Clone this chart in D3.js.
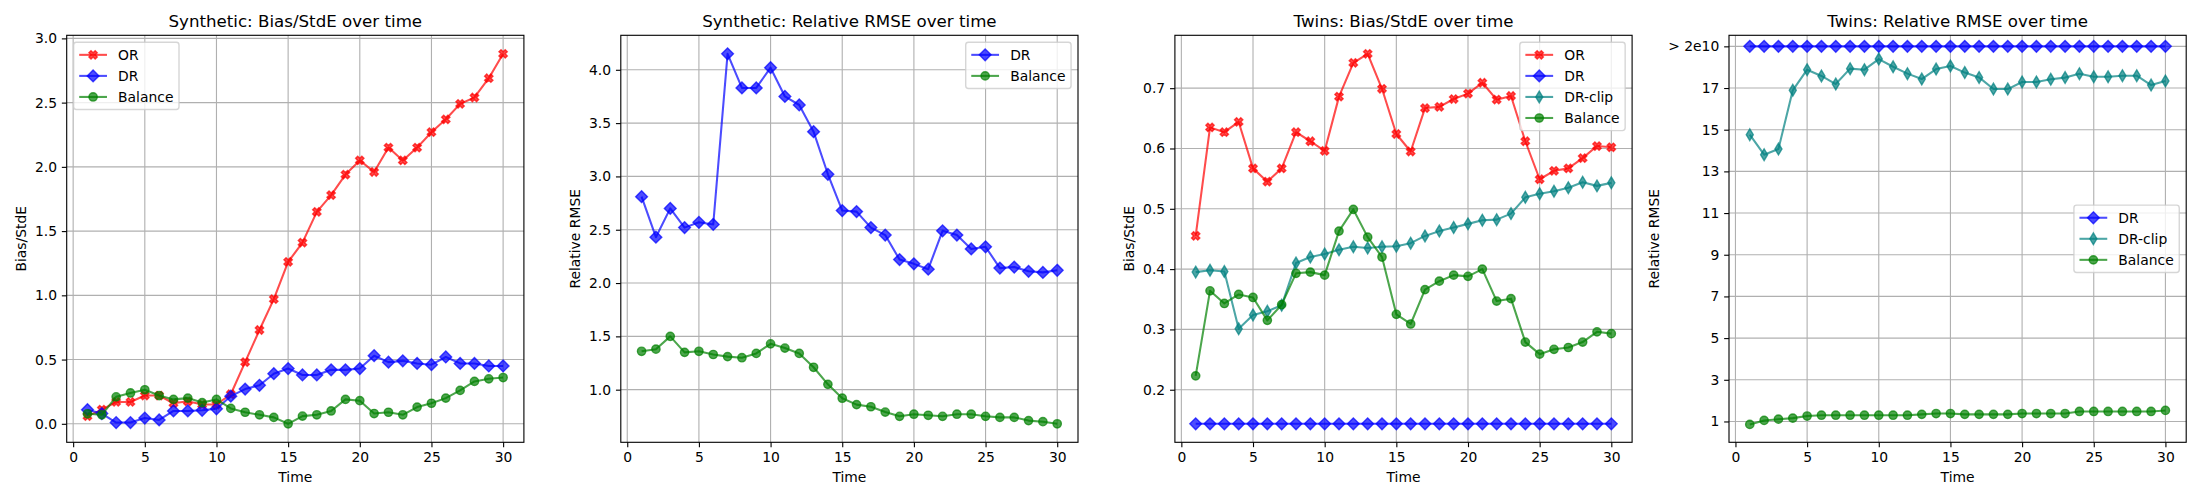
<!DOCTYPE html>
<html>
<head>
<meta charset="utf-8">
<script src="https://cdn.jsdelivr.net/npm/d3@7"></script>
<style>
  body { margin: 0; background: #fff; }
  svg { display: block; font-family: "DejaVu Sans", sans-serif; }
</style>
</head>
<body>
<svg id="chart" width="2200" height="500"></svg>
<script>
// ---- data ----
const time = [1, 2, 3, 4, 5, 6, 7, 8, 9, 10, 11, 12, 13, 14, 15, 16, 17, 18, 19, 20, 21, 22, 23, 24, 25, 26, 27, 28, 29, 30];
const timeTicks = [0, 5, 10, 15, 20, 25, 30];

// Synthetic: Bias/StdE
const synBiasOR = [0.06, 0.11, 0.17, 0.17, 0.22, 0.22, 0.16, 0.175, 0.15, 0.15, 0.23, 0.48, 0.73, 0.97, 1.26, 1.41, 1.65, 1.78, 1.94, 2.05, 1.96, 2.15, 2.05, 2.15, 2.27, 2.37, 2.49, 2.54, 2.69, 2.88];
const synBiasDR = [0.11, 0.08, 0.01, 0.01, 0.045, 0.03, 0.10, 0.10, 0.105, 0.117, 0.215, 0.27, 0.30, 0.39, 0.43, 0.38, 0.38, 0.42, 0.42, 0.43, 0.53, 0.48, 0.49, 0.47, 0.46, 0.52, 0.47, 0.47, 0.45, 0.45];
const synBiasBalance = [0.078, 0.07, 0.21, 0.24, 0.265, 0.22, 0.19, 0.20, 0.165, 0.19, 0.12, 0.09, 0.07, 0.05, 0.00, 0.06, 0.07, 0.10, 0.19, 0.18, 0.08, 0.09, 0.07, 0.13, 0.16, 0.20, 0.26, 0.33, 0.35, 0.36];
const synBiasTicks = [0, 0.5, 1.0, 1.5, 2.0, 2.5, 3.0];

// Synthetic: Relative RMSE
const synRmseDR = [2.81, 2.43, 2.70, 2.52, 2.57, 2.55, 4.15, 3.83, 3.83, 4.02, 3.75, 3.67, 3.42, 3.02, 2.68, 2.67, 2.52, 2.45, 2.22, 2.18, 2.13, 2.49, 2.45, 2.32, 2.34, 2.14, 2.15, 2.11, 2.10, 2.12];
const synRmseBalance = [1.36, 1.38, 1.50, 1.35, 1.36, 1.33, 1.31, 1.30, 1.34, 1.43, 1.39, 1.34, 1.21, 1.05, 0.92, 0.86, 0.84, 0.79, 0.75, 0.77, 0.76, 0.75, 0.77, 0.77, 0.75, 0.74, 0.74, 0.71, 0.70, 0.68];
const synRmseTicks = [1.0, 1.5, 2.0, 2.5, 3.0, 3.5, 4.0];

// Twins: Bias/StdE
const twinsBiasOR = [0.455, 0.635, 0.627, 0.644, 0.567, 0.545, 0.567, 0.627, 0.612, 0.596, 0.686, 0.742, 0.757, 0.699, 0.624, 0.595, 0.667, 0.669, 0.682, 0.691, 0.709, 0.681, 0.687, 0.612, 0.549, 0.563, 0.567, 0.584, 0.604, 0.602];
const twinsBiasDR = [0.1435, 0.1435, 0.1435, 0.1435, 0.1435, 0.1435, 0.1435, 0.1435, 0.1435, 0.1435, 0.1435, 0.1435, 0.1435, 0.1435, 0.1435, 0.1435, 0.1435, 0.1435, 0.1435, 0.1435, 0.1435, 0.1435, 0.1435, 0.1435, 0.1435, 0.1435, 0.1435, 0.1435, 0.1435, 0.1435];
const twinsBiasDRclip = [0.395, 0.398, 0.396, 0.301, 0.324, 0.330, 0.340, 0.410, 0.420, 0.425, 0.432, 0.437, 0.435, 0.437, 0.438, 0.443, 0.455, 0.463, 0.469, 0.475, 0.481, 0.482, 0.492, 0.519, 0.525, 0.529, 0.535, 0.544, 0.538, 0.543];
const twinsBiasBalance = [0.223, 0.364, 0.343, 0.358, 0.353, 0.315, 0.341, 0.393, 0.395, 0.390, 0.463, 0.499, 0.453, 0.420, 0.325, 0.309, 0.366, 0.380, 0.390, 0.388, 0.400, 0.347, 0.351, 0.279, 0.259, 0.267, 0.270, 0.279, 0.296, 0.293];
const twinsBiasTicks = [0.2, 0.3, 0.4, 0.5, 0.6, 0.7];

// Twins: Relative RMSE (DR is off the scale, drawn at the capped "> 2e10" row)
const twinsRmseDRCapped = [19, 19, 19, 19, 19, 19, 19, 19, 19, 19, 19, 19, 19, 19, 19, 19, 19, 19, 19, 19, 19, 19, 19, 19, 19, 19, 19, 19, 19, 19];
const twinsRmseDRclip = [14.76, 13.80, 14.07, 16.89, 17.88, 17.58, 17.19, 17.93, 17.88, 18.39, 18.02, 17.69, 17.43, 17.91, 18.06, 17.74, 17.51, 16.95, 16.95, 17.29, 17.29, 17.42, 17.50, 17.69, 17.54, 17.54, 17.59, 17.59, 17.14, 17.34];
const twinsRmseBalance = [0.86, 1.05, 1.11, 1.16, 1.26, 1.30, 1.30, 1.30, 1.30, 1.30, 1.30, 1.30, 1.34, 1.38, 1.38, 1.34, 1.34, 1.34, 1.34, 1.38, 1.38, 1.38, 1.38, 1.48, 1.48, 1.48, 1.48, 1.48, 1.48, 1.53];
const twinsRmseTicks = [1, 3, 5, 7, 9, 11, 13, 15, 17, 19];
const twinsRmseTickLabels = ['1', '3', '5', '7', '9', '11', '13', '15', '17', '> 2e10'];

// ---- layout (matplotlib 22x5in @100dpi look) ----
const FS = 13.89;          // 10pt
const TITLE_FS = 16.67;    // 12pt
const axTop = 35.3, axBottom = 442.3, axW = 457.2;
const axLefts = [66.7, 620.8, 1174.9, 1729];
const tickLen = 4.86, tickPad = 4.86;
const ms = 8.33;           // markersize 6pt

const panels = [
  {
    title: 'Synthetic: Bias/StdE over time', ylabel: 'Bias/StdE',
    yTicks: synBiasTicks, yFmt: d3.format('.1f'), legend: 'upper left',
    series: [
      { name: 'OR', values: synBiasOR, color: 'red', marker: 'X' },
      { name: 'DR', values: synBiasDR, color: 'blue', marker: 'D' },
      { name: 'Balance', values: synBiasBalance, color: 'green', marker: 'o' }
    ]
  },
  {
    title: 'Synthetic: Relative RMSE over time', ylabel: 'Relative RMSE',
    yTicks: synRmseTicks, yFmt: d3.format('.1f'), legend: 'upper right',
    series: [
      { name: 'DR', values: synRmseDR, color: 'blue', marker: 'D' },
      { name: 'Balance', values: synRmseBalance, color: 'green', marker: 'o' }
    ]
  },
  {
    title: 'Twins: Bias/StdE over time', ylabel: 'Bias/StdE',
    yTicks: twinsBiasTicks, yFmt: d3.format('.1f'), legend: 'upper right',
    series: [
      { name: 'OR', values: twinsBiasOR, color: 'red', marker: 'X' },
      { name: 'DR', values: twinsBiasDR, color: 'blue', marker: 'D' },
      { name: 'DR-clip', values: twinsBiasDRclip, color: 'teal', marker: 'd' },
      { name: 'Balance', values: twinsBiasBalance, color: 'green', marker: 'o' }
    ]
  },
  {
    title: 'Twins: Relative RMSE over time', ylabel: 'Relative RMSE',
    yTicks: twinsRmseTicks, yFmt: (d, i) => twinsRmseTickLabels[i], legend: 'center right',
    yDomain: [0, 19.53],
    series: [
      { name: 'DR', values: twinsRmseDRCapped, color: 'blue', marker: 'D' },
      { name: 'DR-clip', values: twinsRmseDRclip, color: 'teal', marker: 'd' },
      { name: 'Balance', values: twinsRmseBalance, color: 'green', marker: 'o' }
    ]
  }
];

function markerPath(type) {
  const h = ms / Math.SQRT2;
  const r = ms / 2;
  if (type === 'o') return `M${r},0A${r},${r} 0 1,1 ${-r},0A${r},${r} 0 1,1 ${r},0Z`;
  if (type === 'D') return `M0,${-h}L${h},0L0,${h}L${-h},0Z`;
  if (type === 'd') return `M0,${-h}L${0.6 * h},0L0,${h}L${-0.6 * h},0Z`;
  // filled X
  const pts = [[-1, -2], [0, -1], [1, -2], [2, -1], [1, 0], [2, 1], [1, 2], [0, 1], [-1, 2], [-2, 1], [-1, 0], [-2, -1]];
  return 'M' + pts.map(p => `${p[0] * ms / 4},${p[1] * ms / 4}`).join('L') + 'Z';
}

// pad a [min,max] extent by 5% like matplotlib autoscaling
function padded(ext) {
  const m = (ext[1] - ext[0]) * 0.05;
  return [ext[0] - m, ext[1] + m];
}

const svg = d3.select('#chart');
svg.append('rect').attr('width', 2200).attr('height', 500).attr('fill', '#fff');

panels.forEach((p, pi) => {
  const left = axLefts[pi];
  const right = left + axW;
  const g = svg.append('g');

  const x = d3.scaleLinear().domain(padded(d3.extent(time))).range([left, right]);
  const allY = p.series.flatMap(s => s.values);
  const y = d3.scaleLinear().domain(p.yDomain || padded(d3.extent(allY))).range([axBottom, axTop]);

  // grid
  g.append('g').selectAll('line').data(timeTicks).join('line')
    .attr('x1', d => x(d)).attr('x2', d => x(d))
    .attr('y1', axTop).attr('y2', axBottom)
    .attr('stroke', '#b0b0b0').attr('stroke-width', 1.11);
  g.append('g').selectAll('line').data(p.yTicks).join('line')
    .attr('x1', left).attr('x2', right)
    .attr('y1', d => y(d)).attr('y2', d => y(d))
    .attr('stroke', '#b0b0b0').attr('stroke-width', 1.11);

  // axes
  const xAxis = g.append('g').attr('transform', `translate(0,${axBottom})`)
    .call(d3.axisBottom(x).tickValues(timeTicks).tickSize(tickLen).tickPadding(tickPad).tickSizeOuter(0));
  const yAxis = g.append('g').attr('transform', `translate(${left},0)`)
    .call(d3.axisLeft(y).tickValues(p.yTicks).tickFormat(p.yFmt).tickSize(tickLen).tickPadding(tickPad).tickSizeOuter(0));
  [xAxis, yAxis].forEach(a => {
    a.select('.domain').remove();
    a.selectAll('.tick line').attr('stroke', '#000').attr('stroke-width', 1.11);
    a.selectAll('.tick text').attr('fill', '#000')
      .style('font-size', FS + 'px').style('font-family', '"DejaVu Sans", sans-serif');
  });

  // series
  const clipId = 'clip' + pi;
  svg.append('clipPath').attr('id', clipId).append('rect')
    .attr('x', left).attr('y', axTop).attr('width', axW).attr('height', axBottom - axTop);
  const plot = g.append('g').attr('clip-path', `url(#${clipId})`);
  const line = d3.line().x((d, i) => x(time[i])).y(d => y(d));
  p.series.forEach(s => {
    const sg = plot.append('g');
    sg.append('path').attr('d', line(s.values))
      .attr('fill', 'none').attr('stroke', s.color).attr('stroke-opacity', 0.7)
      .attr('stroke-width', 2.08).attr('stroke-linejoin', 'round');
    sg.selectAll('path.mk').data(s.values).join('path').attr('class', 'mk')
      .attr('d', markerPath(s.marker))
      .attr('transform', (d, i) => `translate(${x(time[i])},${y(d)})`)
      .attr('fill', s.color).attr('fill-opacity', 0.7)
      .attr('stroke', s.color).attr('stroke-opacity', 0.7).attr('stroke-width', 1.39)
      .attr('stroke-linejoin', 'miter');
  });

  // spines
  g.append('rect').attr('x', left).attr('y', axTop).attr('width', axW).attr('height', axBottom - axTop)
    .attr('fill', 'none').attr('stroke', '#000').attr('stroke-width', 1.11);

  // title and labels
  g.append('text').attr('x', (left + right) / 2).attr('y', 27.2).attr('text-anchor', 'middle')
    .style('font-size', TITLE_FS + 'px').text(p.title);
  g.append('text').attr('x', (left + right) / 2).attr('y', 482.3).attr('text-anchor', 'middle')
    .style('font-size', FS + 'px').text('Time');
  let minX = 0;
  yAxis.selectAll('.tick text').each(function () {
    minX = Math.min(minX, this.getBBox().x);
  });
  const ylx = left + minX - 5.56 - 3.3;
  g.append('text').attr('transform', `translate(${ylx},${(axTop + axBottom) / 2}) rotate(-90)`)
    .attr('text-anchor', 'middle').style('font-size', FS + 'px').text(p.ylabel);

  // legend
  const borderPad = 0.4 * FS, handleLen = 2 * FS, handleTextPad = 0.8 * FS;
  const labelSpacing = 0.5 * FS, rowH = 14.1, axPad = 0.5 * FS;
  const lg = g.append('g');
  const texts = p.series.map(s => lg.append('text').style('font-size', FS + 'px').text(s.name));
  const textW = d3.max(texts, t => t.node().getComputedTextLength());
  const boxW = 2 * borderPad + handleLen + handleTextPad + textW;
  const n = p.series.length;
  const boxH = 2 * borderPad + n * rowH + (n - 1) * labelSpacing;
  let bx, by;
  if (p.legend === 'upper left') { bx = left + axPad; by = axTop + axPad; }
  else if (p.legend === 'upper right') { bx = right - axPad - boxW; by = axTop + axPad; }
  else { bx = right - axPad - boxW; by = (axTop + axBottom) / 2 - boxH / 2; }
  lg.insert('rect', 'text').attr('x', bx).attr('y', by).attr('width', boxW).attr('height', boxH)
    .attr('rx', 0.2 * FS).attr('fill', '#fff').attr('fill-opacity', 0.8)
    .attr('stroke', '#cccccc').attr('stroke-opacity', 0.8).attr('stroke-width', 1.39);
  p.series.forEach((s, i) => {
    const yc = by + borderPad + i * (rowH + labelSpacing) + rowH / 2;
    const hx = bx + borderPad;
    lg.append('line').attr('x1', hx).attr('x2', hx + handleLen).attr('y1', yc).attr('y2', yc)
      .attr('stroke', s.color).attr('stroke-opacity', 0.7).attr('stroke-width', 2.08);
    lg.append('path').attr('d', markerPath(s.marker))
      .attr('transform', `translate(${hx + handleLen / 2},${yc})`)
      .attr('fill', s.color).attr('fill-opacity', 0.7)
      .attr('stroke', s.color).attr('stroke-opacity', 0.7).attr('stroke-width', 1.39);
    texts[i].attr('x', hx + handleLen + handleTextPad).attr('y', yc + 5).raise();
  });
});
</script>
</body>
</html>
